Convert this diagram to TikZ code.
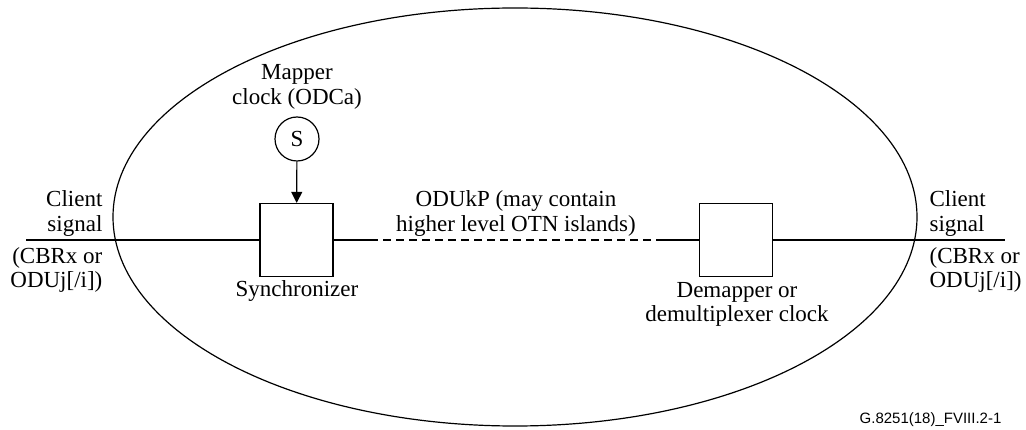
\documentclass[tikz,border=0pt]{standalone}
\usepackage{fontspec}
\setmainfont{Liberation Serif}
\newfontfamily\idfont{Liberation Sans}
\usetikzlibrary{arrows.meta}
\begin{document}
\begin{tikzpicture}[x=1pt,y=-1pt,line width=1.2pt,
  lbl/.style={font=\fontsize{23}{25}\selectfont,inner sep=0pt,anchor=base},
  lbll/.style={lbl,anchor=base east},
  lblr/.style={lbl,anchor=base west},
  blk/.style={draw,minimum width=73pt,minimum height=73pt,inner sep=0pt},
  src/.style={draw,circle,minimum size=44pt,inner sep=0pt,font=\fontsize{23}{25}\selectfont},
  arr/.style={-{Triangle[length=11pt,width=11pt]}},
  dsh/.style={dash pattern=on 8pt off 5pt}]
\useasboundingbox (0,0) rectangle (1026,430);
% ellipse
\draw (515,217) ellipse [x radius=402, y radius=209];
% blocks
\node[blk] (sync) at (296.5,240) {};
\node[blk] (demap) at (736,240) {};
\node[src] (s) at (297,139) {S};
\draw[arr] (s) -- (sync);
% signal line
\coordinate (L) at (26,240);
\coordinate (R) at (1005,240);
\coordinate (d1) at (370,240);
\coordinate (d2) at (662,240);
\draw (L) -- (sync.west);
\draw (sync.east) -- (d1);
\draw[dsh] (d1) -- (d2);
\draw (d2) -- (demap.west);
\draw (demap.east) -- (R);
% left labels
\node[lbll] (cl1) at (103,207) {Client};
\node[lbll] (cl2) at (103,232) {signal};
\node[lbll] (cl3) at (103,264) {(CBRx or};
\node[lbll] (cl4) at (103,288) {ODUj[/i])};
% right labels
\node[lblr] (cr1) at (929,207) {Client};
\node[lblr] (cr2) at (929,232) {signal};
\node[lblr] (cr3) at (929,264) {(CBRx or};
\node[lblr] (cr4) at (929,288) {ODUj[/i])};
% mapper
\node[lbl] (m1) at (297,80) {Mapper};
\node[lbl] (m2) at (297,105) {clock (ODCa)};
% center
\node[lbl] (c1) at (516,207) {ODUkP (may contain};
\node[lbl] (c2) at (516,232) {higher level OTN islands)};
% under blocks
\node[lbl] (syl) at (297,297) {Synchronizer};
\node[lbl] (dm1) at (737,298) {Demapper or};
\node[lbl] (dm2) at (737,322) {demultiplexer clock};
% id
\node[inner sep=0pt,anchor=base east,font=\idfont\fontsize{15}{17}\selectfont] (id) at (1002,424) {G.8251(18)\_FVIII.2-1};
\end{tikzpicture}
\end{document}
